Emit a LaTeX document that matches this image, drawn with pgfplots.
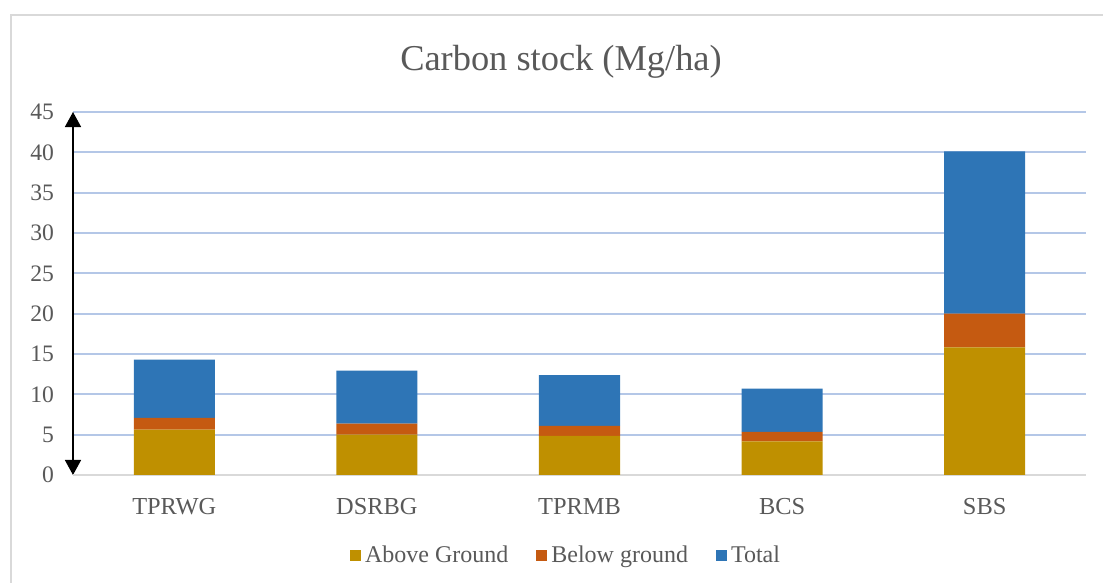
\documentclass[border=0pt]{standalone}
\usepackage{pgfplots}
\pgfplotsset{compat=1.18}
\usepackage{fontspec}
\setmainfont{Liberation Serif}
\usetikzlibrary{arrows.meta}
\definecolor{ag}{HTML}{BF9000}
\definecolor{bg}{HTML}{C55A11}
\definecolor{tot}{HTML}{2E75B6}
\definecolor{txt}{HTML}{595959}
\definecolor{gridc}{HTML}{B4C7E7}
\definecolor{framec}{HTML}{D9D9D9}
\begin{document}
\begin{tikzpicture}
\useasboundingbox (0,0) rectangle (551.5pt,291.5pt);
\draw[framec, line width=1pt] (5.5pt,0) -- (5.5pt,284pt) -- (551.5pt,284pt);
\node[txt, font=\fontsize{18.2}{20}\selectfont] at (280.5pt,260.5pt) {Carbon stock (Mg/ha)};
\begin{axis}[
  at={(36.5pt,54pt)}, anchor=south west,
  scale only axis, width=506.5pt, height=181.5pt,
  ybar stacked, bar width=0.4,
  xmin=-0.5, xmax=4.5, ymin=0, ymax=45,
  xtick=data, xticklabels={TPRWG,DSRBG,TPRMB,BCS,SBS},
  ytick={0,5,...,45},
  xmajorgrids=false, ymajorgrids=true,
  major grid style={draw=gridc, line width=0.9pt},
  axis line style={draw=none},
  clip=false,
  major tick length=0pt,
  tick label style={txt},
  xticklabel style={font=\fontsize{12.2}{14}\selectfont, yshift=-8pt},
  yticklabel style={font=\fontsize{11.8}{13}\selectfont, xshift=-6pt},
  /pgf/number format/assume math mode=true,
  legend columns=3,
  legend style={draw=none, fill=none, at={(0.4877,-0.222)}, anchor=center, font=\fontsize{12}{14}\selectfont, text=txt, /tikz/every even column/.append style={column sep=12pt}},
  legend image code/.code={\fill (0pt,-2.75pt) rectangle (5.5pt,2.75pt);},
]
\addplot[fill=ag, draw=none] coordinates {(0,5.62) (1,5.00) (2,4.84) (3,4.17) (4,15.81)};
\addplot[fill=bg, draw=none] coordinates {(0,1.46) (1,1.37) (2,1.25) (3,1.17) (4,4.19)};
\addplot[fill=tot, draw=none] coordinates {(0,7.21) (1,6.58) (2,6.28) (3,5.38) (4,20.12)};
\legend{Above Ground, Below ground, Total}
\draw[framec, line width=1pt] (rel axis cs:0,0) -- (rel axis cs:1,0);
\draw[black, line width=0.8pt, {Triangle[width=8pt,length=7.5pt]}-{Triangle[width=8pt,length=7.5pt]}] (rel axis cs:0,0) -- (rel axis cs:0,1);
\end{axis}
\end{tikzpicture}
\end{document}
